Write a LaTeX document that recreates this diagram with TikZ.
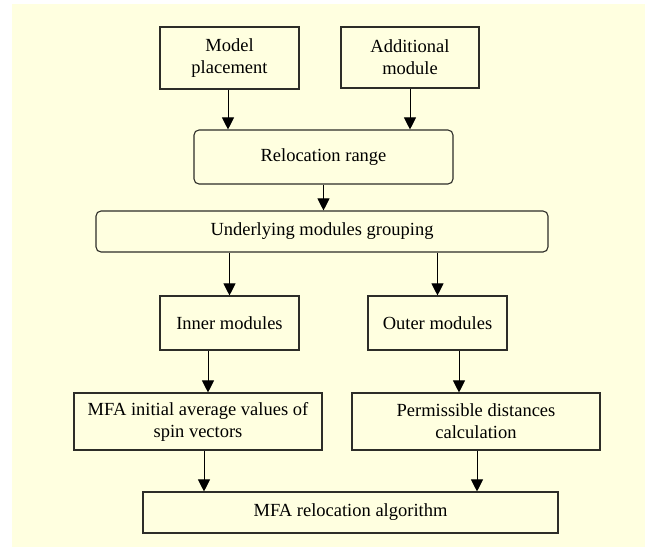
\documentclass[tikz,border=0pt]{standalone}
\usepackage{fontspec}
\setmainfont{Liberation Serif}
\usetikzlibrary{arrows.meta,positioning}
\definecolor{panelyellow}{RGB}{255,255,224}
\definecolor{edgegray}{RGB}{45,45,40}
\tikzstyle{block} = [draw=edgegray, line width=1.1pt, fill=panelyellow, inner sep=0pt, align=center, font=\fontsize{18.5}{22}\selectfont]
\tikzstyle{rblock} = [block, rounded corners=5pt]
\tikzstyle{connector} = [draw=black, line width=0.9pt, -{Triangle[length=12pt,width=12pt]}]

\begin{document}
\begin{tikzpicture}[x=1pt, y=-1pt]
                \useasboundingbox (0,0) rectangle (651,547);
                \fill [panelyellow] (12,4) rectangle (645,547);

                \node (place) [block, minimum width=139pt, minimum height=62pt] at (229.5,58) {Model\\placement};
                \node (addm) [block, minimum width=138pt, minimum height=61pt] at (410,57.5) {Additional\\module};
                \node (range) [rblock, minimum width=259pt, minimum height=54pt] at (323.5,157) {Relocation range};
                \node (group) [rblock, minimum width=452pt, minimum height=41pt] at (322,231.5) {Underlying modules grouping};
                \node (inner) [block, minimum width=139pt, minimum height=54pt] at (229.5,323) {Inner modules};
                \node (outer) [block, minimum width=139pt, minimum height=54pt] at (437.5,323) {Outer modules};
                \node (mfainit) [block, minimum width=248pt, minimum height=57pt] at (198,421.5) {MFA initial average values of\\spin vectors};
                \node (perm) [block, minimum width=248pt, minimum height=57pt] at (476,421.5) {Permissible distances\\calculation};
                \node (algo) [block, minimum width=415pt, minimum height=41pt] at (350.5,512.5) {MFA relocation algorithm};

                \draw [connector] ([xshift=-1.5pt]place.south) -- ([xshift=-1.5pt]place.south |- range.north);
                \draw [connector] (addm.south) -- (addm.south |- range.north);
                \draw [connector] (range.south) -- (range.south |- group.north);
                \draw [connector] (group.south -| inner.north) -- (inner.north);
                \draw [connector] (group.south -| outer.north) -- (outer.north);
                \draw [connector] ([xshift=-21.5pt]inner.south) -- ([xshift=-21.5pt]inner.south |- mfainit.north);
                \draw [connector] ([xshift=21.5pt]outer.south) -- ([xshift=21.5pt]outer.south |- perm.north);
                \draw [connector] ([xshift=6pt]mfainit.south) -- ([xshift=6pt]mfainit.south |- algo.north);
                \draw [connector] ([xshift=1pt]perm.south) -- ([xshift=1pt]perm.south |- algo.north);
            \end{tikzpicture}
\end{document}
